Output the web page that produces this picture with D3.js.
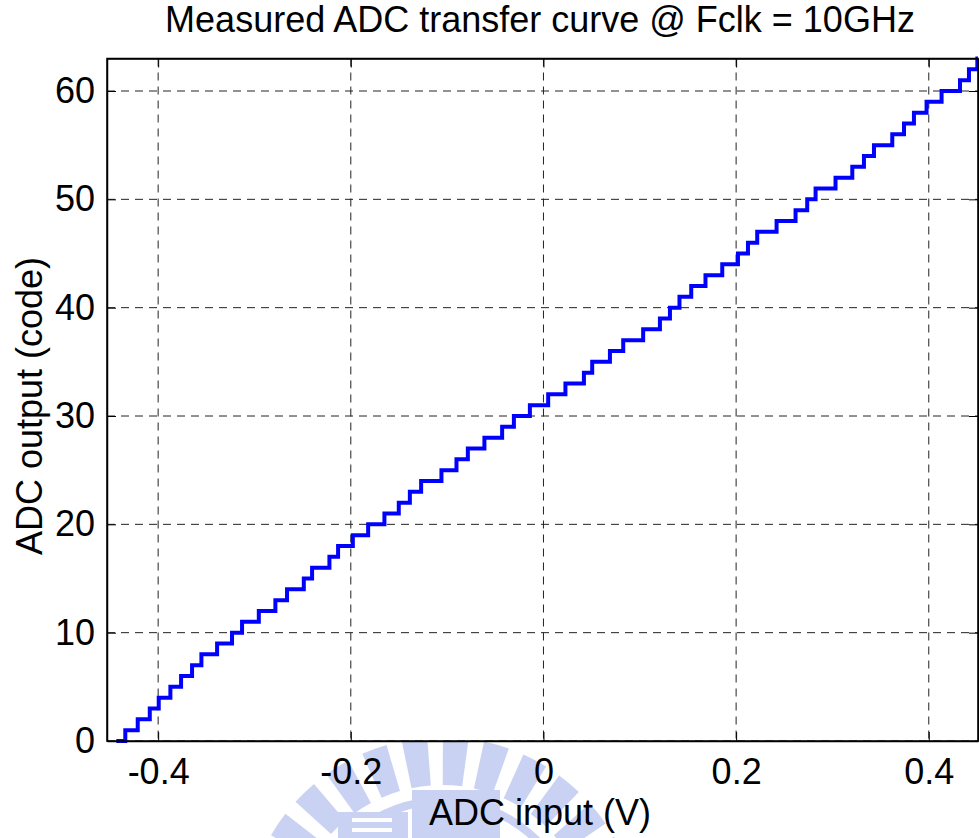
<!DOCTYPE html>
<html>
<head>
<meta charset="utf-8">
<script src="https://cdn.jsdelivr.net/npm/d3@7"></script>
<style>
  html, body { margin: 0; padding: 0; background: #fff; }
  svg text { font-family: "Liberation Sans", Arial, Helvetica, sans-serif; fill: #000; }
</style>
</head>
<body>
<div id="chart"></div>
<script>
// measured ADC transfer curve
// input voltage where the output code steps up by one (code 0 -> 1, 1 -> 2, ... 62 -> 63)
var transitionVolts = [
  -0.4341, -0.4212, -0.4087, -0.3994, -0.3873, -0.3762, -0.3648, -0.3551,
  -0.3388, -0.3233, -0.3129, -0.2955, -0.2783, -0.2662, -0.2488, -0.2402,
  -0.2222, -0.2132, -0.1979, -0.1820, -0.1651, -0.1502, -0.1387, -0.1270,
  -0.1059, -0.0903, -0.0785, -0.0613, -0.0429, -0.0307, -0.0141, 0.0049,
  0.0228, 0.0420, 0.0506, 0.0690, 0.0828, 0.1035, 0.1209, 0.1313,
  0.1412, 0.1534, 0.1682, 0.1856, 0.2019, 0.2123, 0.2219, 0.2420,
  0.2617, 0.2738, 0.2825, 0.3032, 0.3206, 0.3327, 0.3431, 0.3621,
  0.3743, 0.3846, 0.3977, 0.4133, 0.4324, 0.4417, 0.4504
];
var sweepStart = -0.4434;   // first input sample (code 0)
var sweepEnd = 0.4511;      // last input sample (code 63)
var xLimits = [-0.4531, 0.4511];
var yLimits = [0, 63];
var xTicks = [-0.4, -0.2, 0, 0.2, 0.4];
var xTickLabels = ["-0.4", "-0.2", "0", "0.2", "0.4"];
var yTicks = [0, 10, 20, 30, 40, 50, 60];
var yTickLabels = ["0", "10", "20", "30", "40", "50", "60"];

var margin = { top: 58.5, right: 1, bottom: 97, left: 107 },
    width = 979 - margin.left - margin.right,
    height = 838 - margin.top - margin.bottom;

var fontSize = "36px";

var svg = d3.select("#chart")
    .append("svg")
    .attr("width", 979)
    .attr("height", 838);

// faint watermark (university logo) behind the x axis label
var wm = svg.append("g").attr("opacity", 0.45);
var wmArc = d3.arc().innerRadius(150).outerRadius(198);
d3.range(-80, 81, 12).forEach(function (a) {
    var r = a * Math.PI / 180;
    wm.append("path")
        .attr("transform", "translate(442,935)")
        .attr("d", wmArc({ startAngle: r - 0.065, endAngle: r + 0.065 }))
        .attr("fill", "#8a9de6");
});
wm.append("path")
    .attr("transform", "translate(442,935)")
    .attr("d", d3.arc().innerRadius(130).outerRadius(138)({ startAngle: -1.4, endAngle: 1.4 }))
    .attr("fill", "#8a9de6");
wm.append("rect").attr("x", 338).attr("y", 812).attr("width", 70).attr("height", 26).attr("fill", "#8a9de6");
wm.append("rect").attr("x", 412).attr("y", 790).attr("width", 88).attr("height", 48).attr("fill", "#8a9de6");
wm.append("rect").attr("x", 352).attr("y", 818).attr("width", 40).attr("height", 4).attr("fill", "#fff");
wm.append("rect").attr("x", 352).attr("y", 828).attr("width", 40).attr("height", 4).attr("fill", "#fff");

var g = svg.append("g")
    .attr("transform", "translate(" + margin.left + "," + margin.top + ")");

g.append("rect").attr("width", width).attr("height", height).attr("fill", "#fff");

var x = d3.scaleLinear().domain(xLimits).range([0, width]);
var y = d3.scaleLinear().domain(yLimits).range([height, 0]);

// grid
g.append("g").selectAll("line")
    .data(xTicks)
    .enter().append("line")
    .attr("x1", function (d) { return x(d); })
    .attr("x2", function (d) { return x(d); })
    .attr("y1", 0)
    .attr("y2", height)
    .attr("stroke", "#222")
    .attr("stroke-width", 1)
    .attr("stroke-dasharray", "8,6");

g.append("g").selectAll("line")
    .data(yTicks)
    .enter().append("line")
    .attr("x1", 0)
    .attr("x2", width)
    .attr("y1", function (d) { return y(d); })
    .attr("y2", function (d) { return y(d); })
    .attr("stroke", "#222")
    .attr("stroke-width", 1)
    .attr("stroke-dasharray", "8,6");

// staircase
var pts = [[sweepStart, 0]];
transitionVolts.forEach(function (v, i) { pts.push([v, i + 1]); });
pts.push([sweepEnd, transitionVolts.length]);

var line = d3.line()
    .x(function (d) { return x(d[0]); })
    .y(function (d) { return y(d[1]); })
    .curve(d3.curveStepAfter);

g.append("path")
    .datum(pts)
    .attr("fill", "none")
    .attr("stroke", "#0000ff")
    .attr("stroke-width", 4)
    .attr("d", line);

// axes, matlab style: ticks inside on all four sides
var tickLen = 9;
var bottomAxis = d3.axisBottom(x).tickValues(xTicks)
    .tickFormat(function (d, i) { return xTickLabels[i]; })
    .tickSizeInner(-tickLen).tickSizeOuter(0).tickPadding(17);
var topAxis = d3.axisTop(x).tickValues(xTicks).tickFormat("")
    .tickSizeInner(-tickLen).tickSizeOuter(0);
var leftAxis = d3.axisLeft(y).tickValues(yTicks)
    .tickFormat(function (d, i) { return yTickLabels[i]; })
    .tickSizeInner(-tickLen).tickSizeOuter(0).tickPadding(12);
var rightAxis = d3.axisRight(y).tickValues(yTicks).tickFormat("")
    .tickSizeInner(-tickLen).tickSizeOuter(0);

g.append("g").attr("transform", "translate(0," + height + ")").call(bottomAxis);
g.append("g").call(topAxis);
g.append("g").call(leftAxis);
g.append("g").attr("transform", "translate(" + width + ",0)").call(rightAxis);

g.selectAll(".domain").attr("stroke", "#000").attr("stroke-width", 1.5);
g.selectAll(".tick line").attr("stroke", "#000").attr("stroke-width", 1);
g.selectAll(".tick text")
    .attr("font-family", "Liberation Sans, Arial, sans-serif")
    .attr("font-size", fontSize)
    .attr("fill", "#000");

// frame
g.append("rect")
    .attr("width", width)
    .attr("height", height)
    .attr("fill", "none")
    .attr("stroke", "#000")
    .attr("stroke-width", 1.5);

// labels
svg.append("text")
    .attr("x", 540)
    .attr("y", 32)
    .attr("font-size", fontSize)
    .style("text-anchor", "middle")
    .text("Measured ADC transfer curve @ Fclk = 10GHz");

svg.append("text")
    .attr("x", 540)
    .attr("y", 825)
    .attr("font-size", fontSize)
    .style("text-anchor", "middle")
    .text("ADC input (V)");

svg.append("text")
    .attr("transform", "translate(42,406) rotate(-90)")
    .attr("font-size", fontSize)
    .style("text-anchor", "middle")
    .text("ADC output (code)");
</script>
</body>
</html>
